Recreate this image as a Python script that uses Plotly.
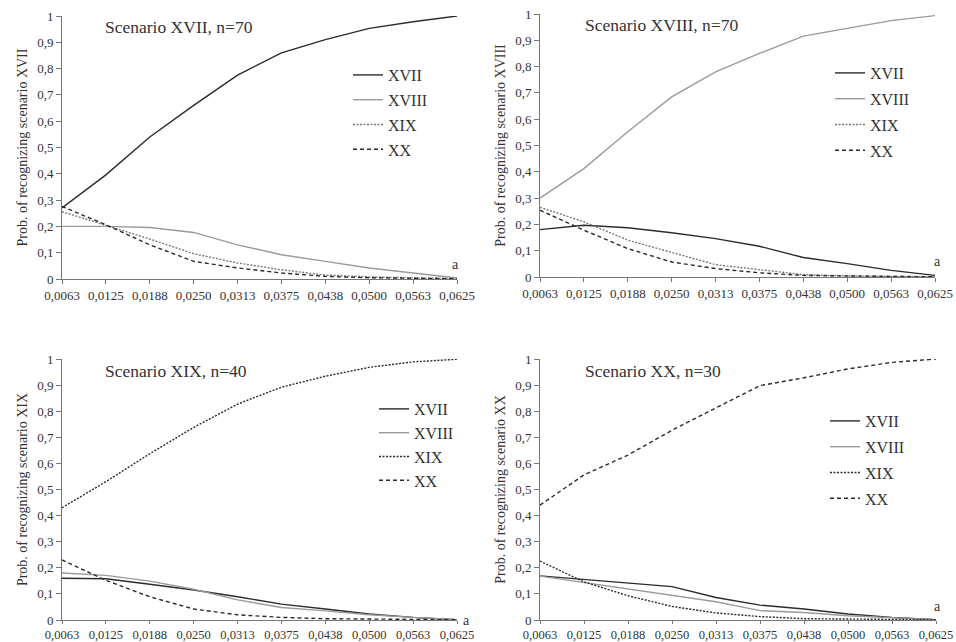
import plotly.graph_objects as go

W, H = 956, 642

x_labels = ["0,0063", "0,0125", "0,0188", "0,0250", "0,0313",
            "0,0375", "0,0438", "0,0500", "0,0563", "0,0625"]
series_names = ["XVII", "XVIII", "XIX", "XX"]

# Panel 1: Scenario XVII, n=70
p1_XVII = [0.27, 0.396, 0.54, 0.66, 0.775, 0.86, 0.91, 0.953, 0.978, 1.0]
p1_XVIII = [0.2, 0.2, 0.196, 0.177, 0.13, 0.092, 0.067, 0.042, 0.023, 0.004]
p1_XIX = [0.256, 0.203, 0.152, 0.096, 0.061, 0.035, 0.015, 0.008, 0.004, 0.001]
p1_XX = [0.276, 0.206, 0.13, 0.067, 0.042, 0.023, 0.01, 0.005, 0.003, 0.001]

# Panel 2: Scenario XVIII, n=70
p2_XVII = [0.18, 0.197, 0.187, 0.168, 0.146, 0.117, 0.074, 0.051, 0.025, 0.006]
p2_XVIII = [0.3, 0.412, 0.552, 0.685, 0.78, 0.85, 0.916, 0.945, 0.975, 0.994]
p2_XIX = [0.265, 0.21, 0.14, 0.093, 0.047, 0.028, 0.009, 0.004, 0.002, 0.001]
p2_XX = [0.254, 0.178, 0.108, 0.057, 0.032, 0.016, 0.006, 0.003, 0.002, 0.001]

# Panel 3: Scenario XIX, n=40
p3_XVII = [0.16, 0.158, 0.137, 0.115, 0.089, 0.061, 0.042, 0.023, 0.01, 0.001]
p3_XVIII = [0.18, 0.171, 0.149, 0.118, 0.077, 0.048, 0.035, 0.02, 0.01, 0.001]
p3_XIX = [0.43, 0.53, 0.637, 0.738, 0.827, 0.892, 0.934, 0.968, 0.989, 0.999]
p3_XX = [0.23, 0.152, 0.089, 0.042, 0.02, 0.01, 0.005, 0.003, 0.002, 0.001]

# Panel 4: Scenario XX, n=30
p4_XVII = [0.169, 0.156, 0.141, 0.128, 0.086, 0.057, 0.042, 0.023, 0.01, 0.001]
p4_XVIII = [0.168, 0.143, 0.12, 0.095, 0.07, 0.036, 0.029, 0.016, 0.008, 0.001]
p4_XIX = [0.226, 0.146, 0.093, 0.052, 0.027, 0.013, 0.005, 0.003, 0.002, 0.001]
p4_XX = [0.44, 0.556, 0.632, 0.727, 0.813, 0.898, 0.928, 0.962, 0.987, 1.0]

panel_titles = ["Scenario XVII, n=70", "Scenario XVIII, n=70",
                "Scenario XIX, n=40", "Scenario XX, n=30"]
y_titles = ["Prob. of recognizing scenario XVII", "Prob. of recognizing scenario XVIII",
            "Prob. of recognizing scenario XIX", "Prob. of recognizing scenario XX"]

panels = [
    [p1_XVII, p1_XVIII, p1_XIX, p1_XX],
    [p2_XVII, p2_XVIII, p2_XIX, p2_XX],
    [p3_XVII, p3_XVIII, p3_XIX, p3_XX],
    [p4_XVII, p4_XVIII, p4_XIX, p4_XX],
]

FONT = "Liberation Serif"

# pixel layout: (x0, x1, ytop, ybottom)
boxes = [(62, 457, 16, 279), (540, 935, 14, 277), (62, 457, 359, 620), (540, 936, 359, 620)]
legend_pos = [(348, 58), (830, 56), (374, 392), (825, 404)]
legend_gap = [1, 2, 0, 2]
title_pos = [(103, 27), (583, 25), (103, 371), (583, 371)]
a_pos = [(455, 264), (937, 261), (466, 620), (937, 606)]
xtick_size = [13, 13, 12.5, 12.5]
xtick_len = [4, 4, 3, 3]

dark = "#2b2b2b"
gray = "#9a9a9a"
mid = "#7a7a7a"
DASH = "4px,3px"
DOT = "2px,1.5px"
styles = [
    [(dark, "solid"), (gray, "solid"), (mid, DOT), (dark, DASH)],
    [(dark, "solid"), (gray, "solid"), (mid, DOT), (dark, DASH)],
    [(dark, "solid"), (gray, "solid"), (dark, DOT), (dark, DASH)],
    [(dark, "solid"), (gray, "solid"), (dark, DOT), (dark, DASH)],
]

fig = go.Figure()
layout = dict(
    width=W, height=H, margin=dict(l=0, r=0, t=0, b=0, autoexpand=False),
    paper_bgcolor="white", plot_bgcolor="white",
    separators=", ",
    font=dict(family=FONT, color="#333", size=12),
    annotations=[],
)

for i, data in enumerate(panels):
    k = "" if i == 0 else str(i + 1)
    xa, ya = "x" + k, "y" + k
    lg = "legend" + k
    for j, vals in enumerate(data):
        c, d = styles[i][j]
        fig.add_trace(go.Scatter(
            x=x_labels, y=vals, mode="lines", name=series_names[j],
            line=dict(color=c, dash=d, width=1.4),
            xaxis=xa, yaxis=ya, legend=lg, legendgroup=f"p{i}s{j}",
        ))
    x0, x1, yt, yb = boxes[i]
    layout["xaxis" + k] = dict(
        domain=[x0 / W, x1 / W], anchor=ya, type="category", range=[0, 9],
        showline=True, linecolor="#777", linewidth=1, ticks="outside",
        ticklen=xtick_len[i], tickcolor="#777", showgrid=False, zeroline=False,
        tickfont=dict(size=xtick_size[i], family=FONT, color="#333"), tickangle=0,
        automargin=False,
    )
    layout["yaxis" + k] = dict(
        domain=[1 - yb / H, 1 - yt / H], anchor=xa, range=[0, 1], dtick=0.1,
        showline=True, linecolor="#777", linewidth=1, ticks="outside",
        ticklen=5, tickcolor="#777", showgrid=False, zeroline=False,
        tickfont=dict(size=13, family=FONT, color="#333"),
        title=dict(text=y_titles[i], font=dict(size=14, family=FONT, color="#333"), standoff=6),
        automargin=False,
    )
    lx, ly = legend_pos[i]
    layout[lg] = dict(
        x=lx / W, y=1 - ly / H, xanchor="left", yanchor="top",
        bgcolor="rgba(0,0,0,0)", font=dict(size=16, family=FONT, color="#333"),
        itemwidth=30, tracegroupgap=legend_gap[i], traceorder="grouped",
    )
    tx, ty = title_pos[i]
    layout["annotations"].append(dict(
        text=panel_titles[i], x=tx / W, y=1 - ty / H, xref="paper", yref="paper",
        xanchor="left", yanchor="middle", showarrow=False,
        font=dict(size=17.5, family=FONT, color="#333"),
    ))
    ax, ay = a_pos[i]
    layout["annotations"].append(dict(
        text="a", x=ax / W, y=1 - ay / H, xref="paper", yref="paper",
        xanchor="center", yanchor="middle", showarrow=False,
        font=dict(size=14, family=FONT, color="#333"),
    ))

fig.update_layout(**layout)
fig.write_html("out.html")
